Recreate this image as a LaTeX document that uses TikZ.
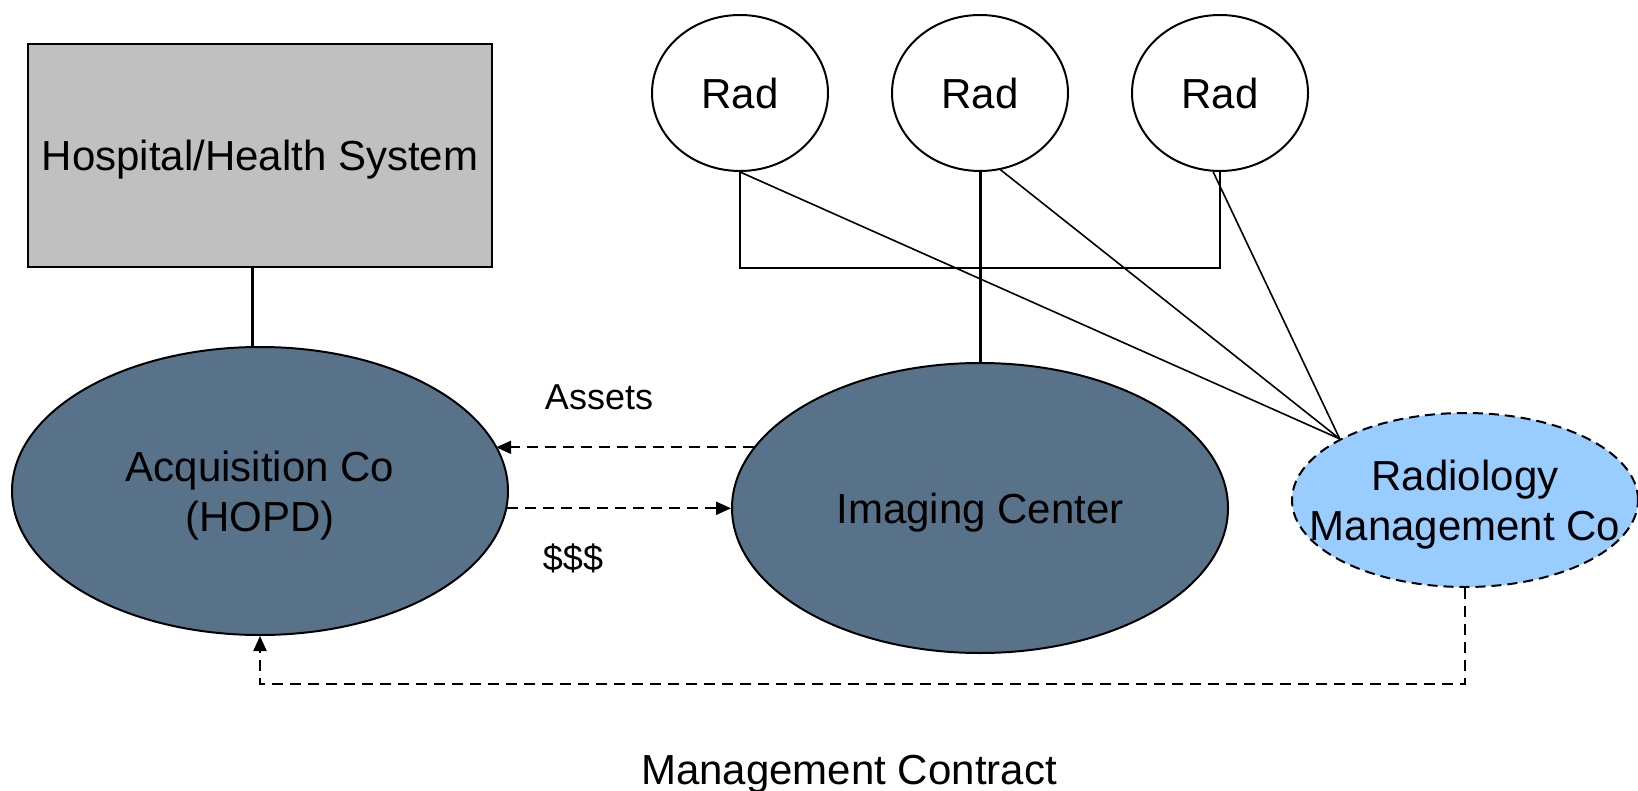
\documentclass[tikz,border=0pt]{standalone}
\usepackage{fontspec}
\setmainfont{Liberation Sans}
\usetikzlibrary{arrows.meta,shapes.geometric}
\definecolor{slate}{HTML}{587289}
\definecolor{skyblue}{HTML}{99CCFF}
\definecolor{boxgray}{HTML}{C0C0C0}
\begin{document}
\begin{tikzpicture}[
  x=0.5pt, y=-0.5pt,
  every node/.style={font=\fontsize{21}{25.2}\selectfont, align=center, text depth=0pt},
  blob/.style={ellipse, draw, line width=1pt, fill=slate, minimum width=248pt, minimum height=144pt},
  rad/.style={ellipse, draw, line width=1pt, fill=white, minimum width=88pt, minimum height=78pt},
  link/.style={line width=0.8pt},
  stem/.style={line width=1.5pt},
  flow/.style={line width=1.1pt, dash pattern=on 5.5pt off 3.5pt, -{Triangle[length=7.5pt,width=6.5pt]}},
  note/.style={font=\fontsize{18}{21.6}\selectfont}
]
  \useasboundingbox (0,0) rectangle (1638,791);
  \node[draw, line width=0.8pt, fill=boxgray, minimum width=232pt, minimum height=111.5pt] (hosp) at (260,155.5) {Hospital/Health System};
  \node[blob] (acq) at (260,491) {Acquisition Co\\(HOPD)};
  \node[blob, minimum height=145pt] (img) at (980,508) {Imaging Center};
  \node[ellipse, draw, line width=1pt, dash pattern=on 5pt off 3pt, fill=skyblue, minimum width=173pt, minimum height=87pt] (rmc) at (1465,500) {};
  \node (rmctext) at (rmc) {Radiology\\Management Co};
  \foreach \i/\x in {1/740,2/980,3/1220}
    \node[rad] (rad\i) at (\x,93) {Rad};

  \draw[stem] ([xshift=-4pt]hosp.south) -- ([xshift=-4pt]hosp.south |- acq.north);
  \draw[link] (rad1) -- (rad1 |- hosp.south) -- (rad3 |- hosp.south) -- (rad3);
  \draw[stem] (rad2) -- (img);
  \coordinate (hub) at (rmc.154);
  \draw[link] (rad1.south) -- (hub);
  \draw[link] (rad2.-75) -- (hub);
  \draw[link] (rad3.-95) -- (hub);

  \draw[flow] (img.165) -- (acq.11 |- img.165);
  \draw[flow] (acq.-4) -- (acq.-4 -| img.west);
  \coordinate (mc) at (260,684);
  \draw[flow] (rmc.south) -- (rmc.south |- mc) -| (acq.south);

  \node[note] (assets) at (599,397) {Assets};
  \node[note] (cash) at (573,557) {\$\$\$};
  \node (contract) at (849,770) {Management Contract};
\end{tikzpicture}
\end{document}
